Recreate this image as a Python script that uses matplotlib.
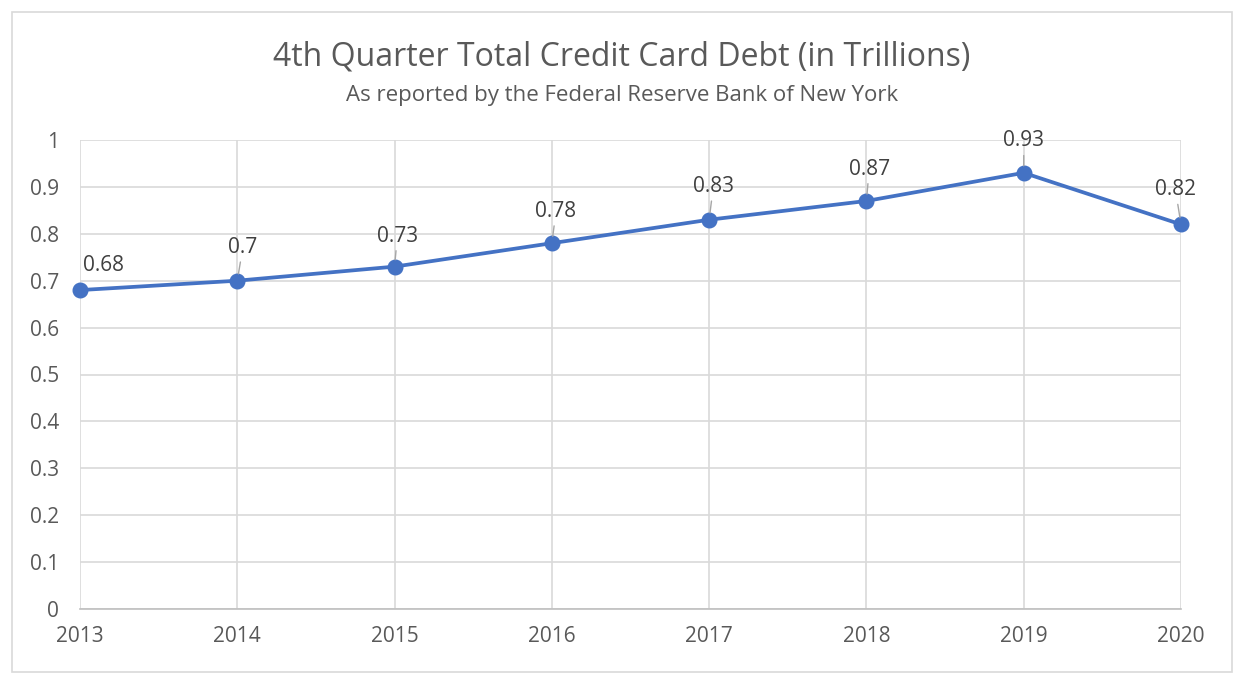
import matplotlib.pyplot as plt
from matplotlib.patches import Rectangle

# data
years = [2013, 2014, 2015, 2016, 2017, 2018, 2019, 2020]
debt = [0.68, 0.70, 0.73, 0.78, 0.83, 0.87, 0.93, 0.82]
debt_labels = ["0.68", "0.7", "0.73", "0.78", "0.83", "0.87", "0.93", "0.82"]
y_ticks = [0, 0.1, 0.2, 0.3, 0.4, 0.5, 0.6, 0.7, 0.8, 0.9, 1.0]
y_tick_labels = ["0", "0.1", "0.2", "0.3", "0.4", "0.5", "0.6", "0.7", "0.8", "0.9", "1"]

# label offsets in points (Excel-ish placement)
label_offsets = [(17, 18), (4, 24), (2, 22), (3, 23), (3, 24), (2, 23), (0, 23), (-4, 25)]

plt.rcParams['font.family'] = ["Open Sans", "DejaVu Sans"]
line_col = "#4472C4"
grid_col = "#d9d9d9"

fig = plt.figure(figsize=(12.44, 6.82), dpi=100)
fig.patches.append(Rectangle((12 / 1244, 10 / 682), 1220 / 1244, 660 / 682, transform=fig.transFigure,
                             fill=False, edgecolor=grid_col, lw=1.2))
ax = fig.add_axes([80 / 1244, 1 - 609 / 682, 1101 / 1244, 469 / 682])

ax.plot(years, debt, color=line_col, lw=2.7, marker="o", markersize=10.5, zorder=3, clip_on=False)
for i, (x, y) in enumerate(zip(years, debt)):
    dx, dy = label_offsets[i]
    arrow = None if i == 0 else dict(arrowstyle="-", color="#a6a6a6", lw=1, shrinkA=1, shrinkB=5)
    ax.annotate(debt_labels[i], (x, y), xytext=(dx, dy), textcoords="offset points",
                ha="center", va="center", fontsize=15, color="#404040", arrowprops=arrow, zorder=4)

ax.set_xlim(2013, 2020)
ax.set_ylim(0, 1)
ax.set_xticks(years)
ax.set_xticklabels([str(y) for y in years])
ax.set_yticks(y_ticks)
ax.set_yticklabels(y_tick_labels)
ax.tick_params(axis="both", length=0, labelsize=15, labelcolor="#595959")
ax.tick_params(axis="y", pad=15)
ax.tick_params(axis="x", pad=12)
ax.grid(True, color=grid_col, lw=1.2)
ax.set_axisbelow(True)
for s in ["top", "right", "left"]:
    ax.spines[s].set_visible(False)
ax.spines["bottom"].set_color("#bfbfbf")
ax.spines["bottom"].set_linewidth(1.2)

fig.text(0.5, 1 - 57 / 682, "4th Quarter Total Credit Card Debt (in Trillions)", ha="center", va="center",
         fontsize=23, color="#595959")
fig.text(0.5, 1 - 95 / 682, "As reported by the Federal Reserve Bank of New York", ha="center", va="center",
         fontsize=16, color="#595959")

fig.savefig("out.png", dpi=100)
